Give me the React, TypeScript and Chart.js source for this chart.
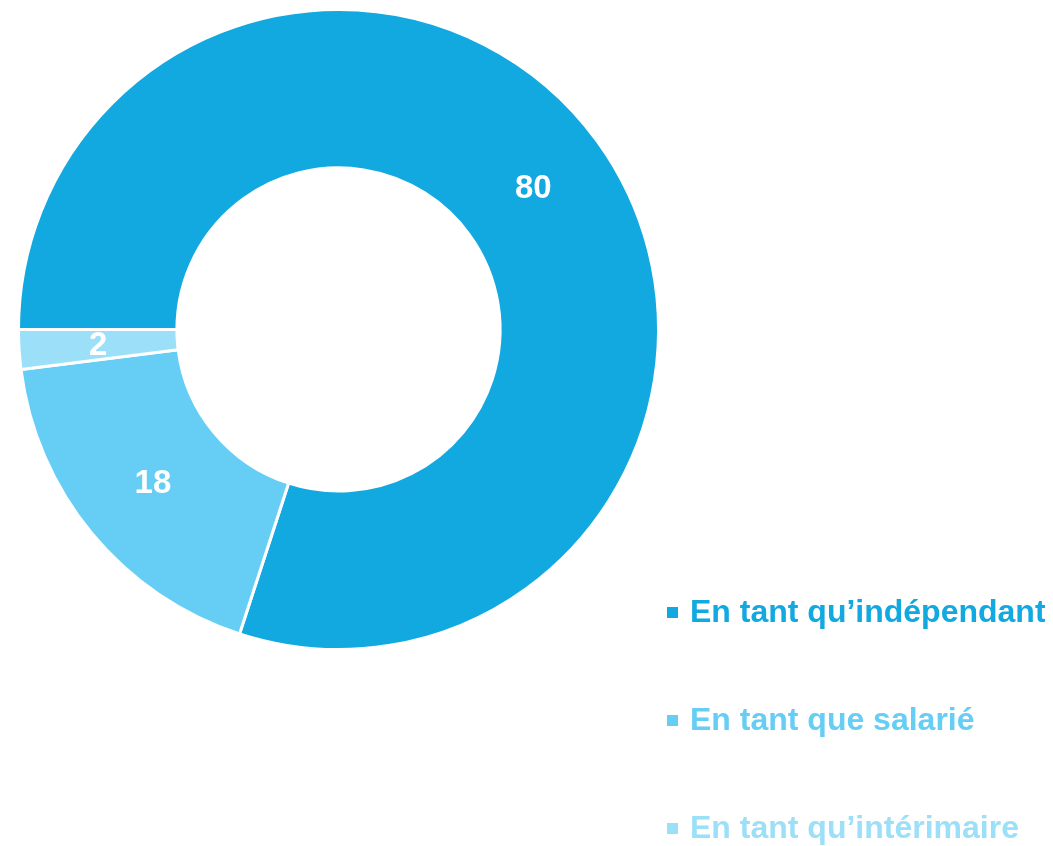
import React, { useEffect, useRef } from "react";
import { Chart, registerables } from "chart.js";

Chart.register(...registerables);

const categories = ["En tant qu’indépendant", "En tant que salarié", "En tant qu’intérimaire"];
const values = [80, 18, 2];
const colors = ["#12A8E0", "#66CEF5", "#9CDFF8"];

const FONT = "'Liberation Sans', Arial, sans-serif";

const valueLabels = {
  id: "valueLabels",
  afterDatasetsDraw(chart: any) {
    const ctx = chart.ctx;
    const meta = chart.getDatasetMeta(0);
    ctx.save();
    ctx.fillStyle = "#ffffff";
    ctx.font = `bold 33px ${FONT}`;
    ctx.textAlign = "center";
    ctx.textBaseline = "middle";
    meta.data.forEach((arc: any, i: number) => {
      const p = arc.tooltipPosition();
      ctx.fillText(String(chart.data.datasets[0].data[i]), p.x, p.y + 1);
    });
    ctx.restore();
  },
};

const sideLegend = {
  id: "sideLegend",
  afterDraw(chart: any) {
    const ctx = chart.ctx;
    const area = chart.chartArea;
    const labels = chart.data.labels as string[];
    const bg = chart.data.datasets[0].backgroundColor as string[];
    const x0 = area.right + 7;
    const yStart = 604;
    const step = 108;
    ctx.save();
    ctx.font = `bold 32px ${FONT}`;
    ctx.textBaseline = "middle";
    ctx.textAlign = "left";
    labels.forEach((lab, i) => {
      const y = yStart + i * step;
      ctx.fillStyle = bg[i];
      ctx.fillRect(x0, y - 5, 11, 11);
      ctx.fillText(lab, x0 + 23, y + 1);
    });
    ctx.restore();
  },
};

export default function App() {
  const ref = useRef<HTMLCanvasElement | null>(null);
  useEffect(() => {
    if (!ref.current) return;
    const chart = new Chart(ref.current, {
      type: "doughnut",
      data: {
        labels: categories,
        datasets: [
          {
            data: values,
            backgroundColor: colors,
            borderColor: "#ffffff",
            borderWidth: 3,
          },
        ],
      },
      options: {
        animation: false,
        responsive: false,
        cutout: "50.5%",
        rotation: 270,
        layout: { padding: { left: 9, top: -2, right: 385, bottom: 195 } },
        plugins: {
          legend: { display: false },
          tooltip: { enabled: false },
        },
      },
      plugins: [valueLabels, sideLegend],
    });
    return () => chart.destroy();
  }, []);
  return (
    <div style={{ width: 1037, height: 838 }}>
      <canvas ref={ref} width={1037} height={838} style={{ display: "block" }} />
    </div>
  );
}
